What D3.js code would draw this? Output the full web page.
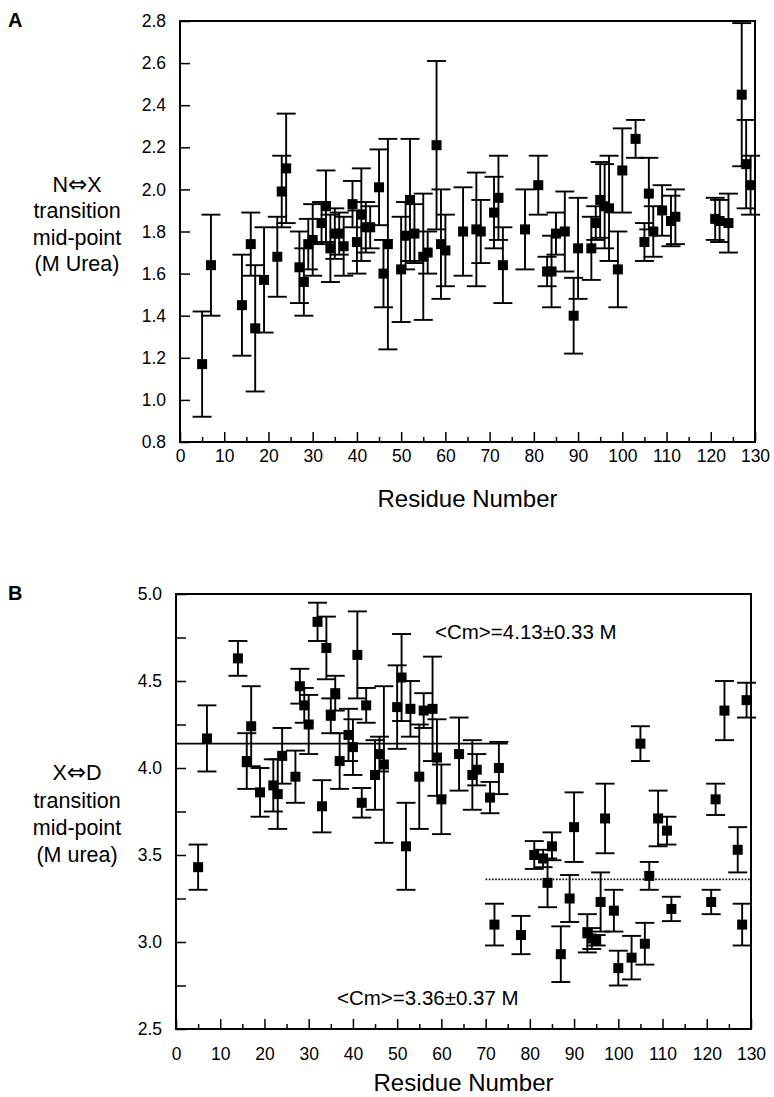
<!DOCTYPE html>
<html>
<head>
<meta charset="utf-8">
<script src="https://cdn.jsdelivr.net/npm/d3@7"></script>
<style>
  html, body { margin: 0; padding: 0; background: #fff; }
  svg { display: block; }
  text { font-family: "Liberation Sans", Arial, sans-serif; fill: #000; }
</style>
</head>
<body>
<svg id="chart" width="774" height="1097"></svg>
<script>
// ---------------- DATA ----------------
const residues = [5,7,14,16,17,19,22,23,24,27,28,29,30,32,33,34,35,36,37,39,40,41,42,43,45,46,47,50,51,52,53,55,56,58,59,60,64,67,68,71,72,73,78,81,83,84,85,87,89,90,93,94,95,96,97,99,100,103,105,106,107,109,111,112,121,122,124,127,128,129];

// Panel A: N<->X transition mid-point (M urea)
const cmNX = [1.17,1.64,1.45,1.74,1.34,1.57,1.68,1.99,2.10,1.63,1.56,1.74,1.76,1.84,1.92,1.72,1.79,1.79,1.73,1.93,1.75,1.88,1.82,1.82,2.01,1.60,1.74,1.62,1.78,1.95,1.79,1.68,1.70,2.21,1.74,1.71,1.80,1.81,1.80,1.89,1.96,1.64,1.81,2.02,1.61,1.61,1.79,1.80,1.40,1.72,1.72,1.84,1.95,1.92,1.91,1.62,2.09,2.24,1.75,1.98,1.80,1.90,1.85,1.87,1.86,1.85,1.84,2.45,2.12,2.02];
const errNX = [0.25,0.24,0.24,0.15,0.30,0.25,0.19,0.17,0.26,0.17,0.16,0.12,0.17,0.10,0.17,0.16,0.12,0.10,0.14,0.11,0.15,0.22,0.12,0.10,0.18,0.16,0.50,0.25,0.16,0.29,0.14,0.30,0.10,0.40,0.26,0.17,0.21,0.27,0.15,0.17,0.20,0.18,0.19,0.14,0.07,0.17,0.10,0.19,0.18,0.24,0.15,0.08,0.18,0.20,0.25,0.18,0.20,0.09,0.09,0.17,0.12,0.12,0.12,0.13,0.10,0.10,0.14,0.34,0.21,0.14];

// Panel B: X<->D transition mid-point (M urea)
const cmXD = [3.43,4.17,4.63,4.04,4.24,3.86,3.90,3.85,4.07,3.95,4.47,4.36,4.25,4.84,3.78,4.69,4.30,4.43,4.04,4.19,4.12,4.65,3.80,4.36,3.96,4.08,4.02,4.35,4.52,3.55,4.34,3.95,4.33,4.34,4.06,3.82,4.08,3.96,3.99,3.83,3.10,4.00,3.04,3.50,3.48,3.34,3.55,2.93,3.25,3.66,3.05,3.02,3.01,3.23,3.71,3.18,2.85,2.91,4.14,2.99,3.38,3.71,3.64,3.19,3.23,3.82,4.33,3.53,3.10,4.39];
const errXD = [0.13,0.19,0.10,0.16,0.23,0.14,0.15,0.20,0.16,0.15,0.10,0.10,0.17,0.11,0.15,0.18,0.10,0.10,0.16,0.15,0.16,0.25,0.085,0.10,0.20,0.10,0.45,0.24,0.25,0.25,0.16,0.30,0.10,0.30,0.22,0.20,0.21,0.20,0.09,0.09,0.12,0.15,0.11,0.08,0.05,0.14,0.08,0.16,0.135,0.20,0.11,0.06,0.03,0.17,0.20,0.12,0.10,0.125,0.10,0.12,0.08,0.16,0.08,0.07,0.07,0.09,0.17,0.13,0.12,0.10];

// Mean lines in panel B
const meanLabels = ["<Cm>=4.13\u00b10.33 M", "<Cm>=3.36\u00b10.37 M"];
const meanValues = [4.14, 3.36];
const meanFrom = [0, 70];
const meanTo = [75, 130];

// Axis tick values
const xTicksMajor = [0,10,20,30,40,50,60,70,80,90,100,110,120,130];
const xTicksMinor = [5,15,25,35,45,55,65,75,85,95,105,115,125];
const yTicksA = [0.8,1.0,1.2,1.4,1.6,1.8,2.0,2.2,2.4,2.6,2.8];
const yTicksB = [2.5,2.75,3.0,3.25,3.5,3.75,4.0,4.25,4.5,4.75,5.0];
const yLabelA = [["N", "\u21d4", "X"], "transition", "mid-point", "(M Urea)"];
const yLabelB = [["X", "\u21d4", "D"], "transition", "mid-point", "(M urea)"];
const xTitle = "Residue Number";

// ---------------- DRAW ----------------
const svg = d3.select("#chart");
const FONT = '"Liberation Sans", Arial, sans-serif';

function drawPanel(cfg) {
  const g = svg.append("g");
  const x = d3.scaleLinear().domain([0, 130]).range([cfg.left, cfg.right]);
  const y = d3.scaleLinear().domain(cfg.yDomain).range([cfg.bottom, cfg.top]);

  // x axis major
  const xa = g.append("g").attr("transform", `translate(0,${cfg.bottom})`)
    .call(d3.axisBottom(x).tickValues(xTicksMajor).tickSize(-10).tickPadding(cfg.xPad).tickFormat(d3.format("d")));
  xa.select(".domain").remove();
  xa.selectAll("line").attr("stroke", "#000").attr("stroke-width", 1.5);
  xa.selectAll("text").attr("font-size", 17.5).attr("font-family", FONT).attr("fill", "#000");
  // x axis minor
  const xm = g.append("g").attr("transform", `translate(0,${cfg.bottom})`)
    .call(d3.axisBottom(x).tickValues(xTicksMinor).tickSize(-5).tickFormat(""));
  xm.select(".domain").remove();
  xm.selectAll("line").attr("stroke", "#000").attr("stroke-width", 1.5);

  // y axis
  const ya = g.append("g").attr("transform", `translate(${cfg.left},0)`)
    .call(d3.axisLeft(y).tickValues(cfg.yTicks).tickSize(-10).tickPadding(14)
      .tickFormat(d => cfg.labelTick(d) ? d3.format(".1f")(d) : ""));
  ya.select(".domain").remove();
  ya.selectAll("line").attr("stroke", "#000").attr("stroke-width", 1.5);
  ya.selectAll("text").attr("font-size", 17.5).attr("font-family", FONT).attr("fill", "#000");

  // frame
  g.append("rect").attr("x", cfg.left).attr("y", cfg.top)
    .attr("width", cfg.right - cfg.left).attr("height", cfg.bottom - cfg.top)
    .attr("fill", "none").attr("stroke", "#000").attr("stroke-width", 2);

  // mean lines
  if (cfg.means) {
    meanValues.forEach((v, i) => {
      g.append("line")
        .attr("x1", x(meanFrom[i])).attr("x2", x(meanTo[i]))
        .attr("y1", y(v)).attr("y2", y(v))
        .attr("stroke", "#000")
        .attr("stroke-width", i === 0 ? 1.8 : 1.6)
        .attr("stroke-dasharray", i === 0 ? null : "1.6,1.6");
    });
    meanLabels.forEach((t, i) => {
      g.append("text").attr("x", cfg.meanTextX[i]).attr("y", cfg.meanTextY[i])
        .attr("font-size", 20.5).text(t);
    });
  }

  // data
  const data = residues.map((r, i) => ({ r, v: cfg.values[i], e: cfg.errors[i] }));
  const eb = g.append("g");
  const cap = 9.5;
  data.forEach(d => {
    const cx = x(d.r);
    const yHi = y(Math.min(d.v + d.e, cfg.yDomain[1]));
    const yLo = y(d.v - d.e);
    eb.append("line").attr("x1", cx).attr("x2", cx).attr("y1", yHi).attr("y2", yLo)
      .attr("stroke", "#000").attr("stroke-width", 1.9);
    eb.append("line").attr("x1", cx - cap).attr("x2", cx + cap).attr("y1", yHi).attr("y2", yHi)
      .attr("stroke", "#000").attr("stroke-width", 1.9);
    eb.append("line").attr("x1", cx - cap).attr("x2", cx + cap).attr("y1", yLo).attr("y2", yLo)
      .attr("stroke", "#000").attr("stroke-width", 1.9);
  });
  g.append("g").selectAll("rect").data(data).join("rect")
    .attr("x", d => x(d.r) - 5).attr("y", d => y(d.v) - 5)
    .attr("width", 10).attr("height", 10).attr("fill", "#000");

  // titles
  g.append("text").attr("x", (cfg.left + cfg.right) / 2).attr("y", cfg.xTitleY)
    .attr("text-anchor", "middle").attr("font-size", 24).text(xTitle);
  cfg.yLabel.forEach((t, i) => {
    const tx = g.append("text").attr("x", 77).attr("y", cfg.yLabelY[i])
      .attr("text-anchor", "middle").attr("font-size", 21.5);
    if (Array.isArray(t)) {
      tx.append("tspan").text(t[0]);
      tx.append("tspan").attr("font-family", '"DejaVu Sans", sans-serif').attr("font-size", 23).text(t[1]);
      tx.append("tspan").text(t[2]);
    } else {
      tx.text(t);
    }
  });
  g.append("text").attr("x", 8).attr("y", cfg.letterY)
    .attr("font-size", 20).attr("font-weight", "bold").text(cfg.letter);
}

drawPanel({
  left: 180, right: 755, top: 21, bottom: 442,
  yDomain: [0.8, 2.8], yTicks: yTicksA, labelTick: () => true,
  xPad: 8, xTitleY: 507,
  values: cmNX, errors: errNX,
  yLabel: yLabelA, yLabelY: [192, 218, 245, 271],
  letter: "A", letterY: 27, means: false
});

drawPanel({
  left: 176, right: 751, top: 594, bottom: 1029,
  yDomain: [2.5, 5.0], yTicks: yTicksB, labelTick: d => Math.abs(d * 2 - Math.round(d * 2)) < 1e-6,
  xPad: 19, xTitleY: 1091,
  values: cmXD, errors: errXD,
  yLabel: yLabelB, yLabelY: [780, 808, 835, 862],
  letter: "B", letterY: 600, means: true,
  meanTextX: [435, 337], meanTextY: [639, 1005]
});
</script>
</body>
</html>
